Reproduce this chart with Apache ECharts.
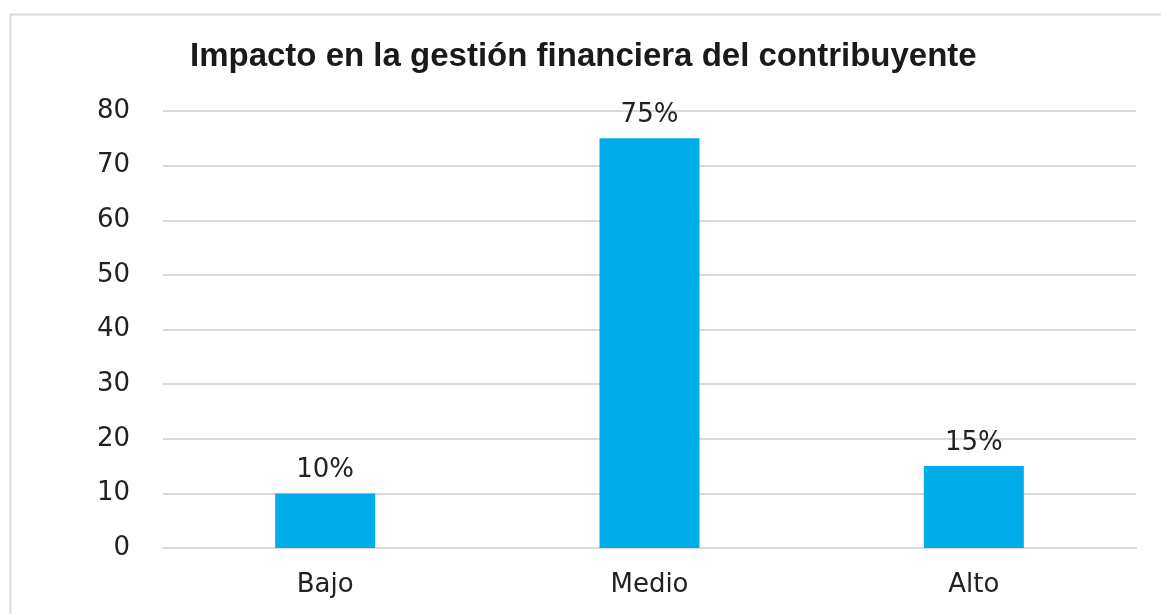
<!DOCTYPE html>
<html>
<head>
<meta charset="utf-8">
<script src="https://cdn.jsdelivr.net/npm/echarts@6/dist/echarts.min.js"></script>
<style>
  html, body { margin: 0; padding: 0; background: #fff; }
  #main { width: 1161px; height: 614px; }
</style>
</head>
<body>
<div id="main"></div>
<script>
// datos del gráfico
const categorias = ['Bajo', 'Medio', 'Alto'];
const valores = [10, 75, 15];
const etiquetas = ['10%', '75%', '15%'];
const yTicks = { min: 0, max: 80, interval: 10 };

const myChart = echarts.init(document.getElementById('main'));

const option = {
  animation: false,
  backgroundColor: '#fff',
  title: {
    text: 'Impacto en la gestión financiera del contribuyente',
    left: 185,
    top: 35,
    textStyle: {
      fontFamily: 'Liberation Sans',
      fontWeight: 'bold',
      fontSize: 33,
      color: '#1a1a1a'
    }
  },
  graphic: [{
    type: 'rect',
    shape: { x: 10.5, y: 14.5, width: 1200, height: 700 },
    style: { fill: 'none', stroke: '#d9d9d9', lineWidth: 2 },
    silent: true
  }],
  grid: { left: 163, right: 25, top: 111, bottom: 66 },
  xAxis: {
    type: 'category',
    data: categorias,
    axisLine: { show: true, lineStyle: { color: '#d9d9d9', width: 2 } },
    axisTick: { show: false },
    axisLabel: {
      margin: 24,
      fontFamily: 'DejaVu Sans',
      fontSize: 26,
      color: '#222'
    }
  },
  yAxis: {
    type: 'value',
    min: yTicks.min,
    max: yTicks.max,
    interval: yTicks.interval,
    axisLine: { show: false },
    axisTick: { show: false },
    splitLine: { lineStyle: { color: '#d9d9d9', width: 2 } },
    axisLabel: {
      margin: 33,
      fontFamily: 'DejaVu Sans',
      fontSize: 26,
      color: '#222'
    }
  },
  series: [{
    type: 'bar',
    data: valores,
    barWidth: 100,
    itemStyle: { color: '#00ADE9' },
    label: {
      show: true,
      position: 'top',
      distance: 10,
      fontFamily: 'DejaVu Sans',
      fontSize: 26,
      color: '#222',
      formatter: p => etiquetas[p.dataIndex]
    }
  }]
};

myChart.setOption(option);
</script>
</body>
</html>
